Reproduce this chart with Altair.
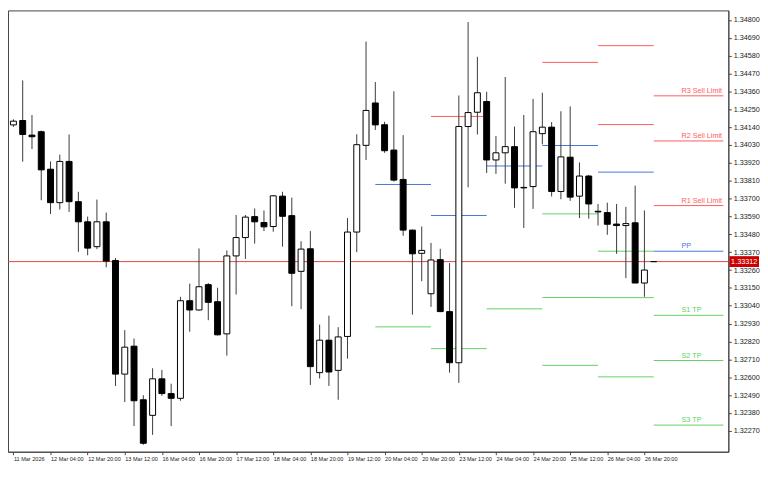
import altair as alt
import pandas as pd

# ---------------- data ----------------
tick_labels = ["11 Mar 2026", "12 Mar 04:00", "12 Mar 20:00", "13 Mar 12:00",
               "16 Mar 04:00", "16 Mar 20:00", "17 Mar 12:00", "18 Mar 04:00",
               "18 Mar 20:00", "19 Mar 12:00", "20 Mar 04:00", "20 Mar 20:00",
               "23 Mar 12:00", "24 Mar 04:00", "24 Mar 20:00", "25 Mar 12:00",
               "26 Mar 04:00", "26 Mar 20:00"]
tick_bars = [0, 4, 8, 12, 16, 20, 24, 28, 32, 36, 40, 44, 48, 52, 56, 60, 64, 68]

price_ticks = [1.34800, 1.34690, 1.34580, 1.34470, 1.34360, 1.34250, 1.34140,
               1.34030, 1.33920, 1.33810, 1.33700, 1.33590, 1.33480, 1.33370,
               1.33260, 1.33150, 1.33040, 1.32930, 1.32820, 1.32710, 1.32600,
               1.32490, 1.32380, 1.32270]

opens = [1.34154, 1.34181, 1.34091, 1.34112, 1.33881, 1.33675, 1.33929, 1.33681,
         1.33557, 1.33404, 1.33557, 1.33319, 1.32619, 1.32791, 1.32461, 1.32365,
         1.32590, 1.32499, 1.32470, 1.33071, 1.33014, 1.33170, 1.33065, 1.32867,
         1.33347, 1.33460, 1.33589, 1.33553, 1.33528, 1.33715, 1.33595, 1.33252,
         1.33391, 1.32628, 1.32828, 1.32642, 1.32851, 1.33494, 1.34028, 1.34289,
         1.34155, 1.33999, 1.33818, 1.33506, 1.33363, 1.33114, 1.33324, 1.33004,
         1.32689, 1.34144, 1.34232, 1.34298, 1.33938, 1.33982, 1.34020, 1.33769,
         1.33774, 1.34100, 1.34140, 1.33744, 1.33955, 1.33715, 1.33839, 1.33622,
         1.33614, 1.33543, 1.33534, 1.33551, 1.33180, 1.33312]
highs = [1.34188, 1.34428, 1.34215, 1.34119, 1.33929, 1.33971, 1.34095, 1.33742,
         1.33589, 1.33694, 1.33614, 1.33334, 1.32890, 1.32838, 1.32489, 1.32655,
         1.32645, 1.32560, 1.33095, 1.33176, 1.33393, 1.33180, 1.33151, 1.33381,
         1.33599, 1.33599, 1.33639, 1.33627, 1.33722, 1.33742, 1.33706, 1.33437,
         1.33500, 1.32924, 1.32979, 1.32908, 1.33580, 1.34096, 1.34667, 1.34418,
         1.34173, 1.34361, 1.34091, 1.33508, 1.33528, 1.33427, 1.33391, 1.33303,
         1.34335, 1.34787, 1.34573, 1.34358, 1.34085, 1.34449, 1.34144, 1.34215,
         1.34314, 1.34352, 1.34171, 1.34238, 1.34268, 1.33923, 1.33846, 1.33667,
         1.33675, 1.33667, 1.33649, 1.33780, 1.33627, 1.33312]
lows = [1.34142, 1.33927, 1.34005, 1.33690, 1.33605, 1.33633, 1.33618, 1.33372,
        1.33351, 1.33389, 1.33277, 1.32546, 1.32447, 1.32299, 1.32184, 1.32245,
        1.32485, 1.32299, 1.32455, 1.32880, 1.33010, 1.32951, 1.32857, 1.32733,
        1.33109, 1.33328, 1.33423, 1.33500, 1.33496, 1.33404, 1.33037, 1.33019,
        1.32552, 1.32592, 1.32546, 1.32461, 1.32714, 1.33370, 1.33938, 1.34123,
        1.33982, 1.33805, 1.33471, 1.32985, 1.33191, 1.33033, 1.33001, 1.32628,
        1.32565, 1.33770, 1.34095, 1.33858, 1.33852, 1.33792, 1.33643, 1.33519,
        1.33637, 1.34034, 1.33713, 1.33696, 1.33686, 1.33580, 1.33576, 1.33534,
        1.33477, 1.33360, 1.33210, 1.33179, 1.33095, 1.33312]
closes = [1.34177, 1.34095, 1.34081, 1.33877, 1.33675, 1.33929, 1.33681, 1.33557,
          1.33395, 1.33557, 1.33315, 1.32619, 1.32785, 1.32455, 1.32193, 1.32590,
          1.32499, 1.32470, 1.33071, 1.33014, 1.33157, 1.33061, 1.32861, 1.33347,
          1.33460, 1.33586, 1.33557, 1.33526, 1.33717, 1.33591, 1.33240, 1.33389,
          1.32665, 1.32828, 1.32632, 1.32848, 1.33494, 1.34032, 1.34243, 1.34154,
          1.33995, 1.33814, 1.33506, 1.33360, 1.33381, 1.33322, 1.33004, 1.32689,
          1.34144, 1.34230, 1.34352, 1.33938, 1.33982, 1.34020, 1.33766, 1.33766,
          1.34112, 1.34140, 1.33744, 1.33957, 1.33709, 1.33839, 1.33667, 1.33618,
          1.33542, 1.33534, 1.33546, 1.33180, 1.33260, 1.33312]

bid_price = 1.33312

# daily pivot segments (start bar, end bar, price, kind)
seg_start = [39, 39, 45, 45, 45, 51, 51, 57, 57, 57, 57, 57, 63, 63, 63, 63, 63, 63]
seg_end = [45, 45, 51, 51, 51, 57, 57, 63, 63, 63, 63, 63, 69, 69, 69, 69, 69, 69]
seg_price = [1.33787, 1.32910, 1.34206, 1.33596, 1.32776, 1.33901, 1.33021,
             1.34539, 1.34027, 1.33606, 1.33091, 1.32673,
             1.34642, 1.34156, 1.33863, 1.33376, 1.33090, 1.32602]
seg_kind = ["P", "S", "R", "P", "S", "P", "S", "R", "P", "S", "S", "S",
            "R", "R", "P", "S", "S", "S"]

# current day pivots with labels
cur_labels = ["R3 Sell Limit", "R2 Sell Limit", "R1 Sell Limit", "PP",
              "S1 TP", "S2 TP", "S3 TP"]
cur_prices = [1.34333, 1.34055, 1.33657, 1.33376, 1.32981, 1.32703, 1.32305]
cur_kind = ["R", "R", "R", "P", "S", "S", "S"]
cur_start = 69

# ---------------- layout ----------------
W, H = 728, 446
x_dom = [-0.05, 76.51]
y_dom = [1.321714, 1.348286]
kind_color = {"R": "#ff5c5c", "P": "#4a74d8", "S": "#62cf62"}
FONT = "Liberation Sans"

bars = pd.DataFrame({"idx": list(range(len(opens))), "open": opens, "high": highs,
                     "low": lows, "close": closes})
bars["fill"] = ["#ffffff" if c > o else "#000000" for o, c in zip(opens, closes)]

segs = pd.DataFrame({"x": seg_start, "x2": seg_end, "price": seg_price,
                     "color": [kind_color[k] for k in seg_kind]})
cur = pd.DataFrame({"x": [cur_start] * len(cur_prices), "x2": [x_dom[1]] * len(cur_prices),
                    "price": cur_prices, "label": cur_labels,
                    "lx": [cur_start + 3] * len(cur_prices),
                    "color": [kind_color[k] for k in cur_kind]})
bid = pd.DataFrame({"price": [bid_price], "txt": [f"{bid_price:.5f}"]})

label_arr = "[" + ",".join("'" + t + "'" for t in tick_labels) + "]"

xs = alt.Scale(domain=x_dom, nice=False, zero=False)
ys = alt.Scale(domain=y_dom, nice=False, zero=False)

x_axis = alt.Axis(values=tick_bars, labelExpr=label_arr + "[round(datum.value/4)]",
                  labelAlign="left", labelPadding=2, tickSize=3, grid=False, title=None,
                  labelFontSize=5.6, labelFont=FONT, labelColor="#222",
                  domainColor="#444", tickColor="#444", labelFlush=False,
                  labelOverlap=False, labelBound=False)
y_axis = alt.Axis(orient="right", values=price_ticks, format=".5f", grid=False,
                  title=None, tickSize=3, labelPadding=2, labelFontSize=7.3,
                  labelFont=FONT, labelColor="#222", domainColor="#444",
                  tickColor="#444", labelOverlap=False, labelFlush=False,
                  labelBound=False)


def X(field):
    return alt.X(field, scale=xs, axis=x_axis)


def Y(field):
    return alt.Y(field, scale=ys, axis=y_axis)


bid_line = alt.Chart(bid).mark_rule(color="#e04545", strokeWidth=1).encode(
    y=Y("price:Q"))

seg_lines = alt.Chart(segs).mark_rule(strokeWidth=1).encode(
    x=X("x:Q"), x2="x2:Q", y=Y("price:Q"),
    color=alt.Color("color:N", scale=None))

cur_lines = alt.Chart(cur).mark_rule(strokeWidth=1).encode(
    x=X("x:Q"), x2="x2:Q", y=Y("price:Q"),
    color=alt.Color("color:N", scale=None))

cur_text = alt.Chart(cur).mark_text(align="left", baseline="bottom", dy=-1,
                                    fontSize=7.3, font=FONT).encode(
    x=X("lx:Q"), y=Y("price:Q"), text="label:N",
    color=alt.Color("color:N", scale=None))

wicks = alt.Chart(bars).mark_rule(color="#3a3a3a", strokeWidth=1).encode(
    x=X("idx:Q"), y=Y("low:Q"), y2="high:Q")

bodies = alt.Chart(bars).mark_bar(size=6, stroke="#000000", strokeWidth=1).encode(
    x=X("idx:Q"), y=Y("open:Q"), y2="close:Q",
    fill=alt.Color("fill:N", scale=None))

bid_box = alt.Chart(bid).mark_bar(orient="horizontal", size=11, color="#cc0000",
                                  clip=False).encode(
    y=Y("price:Q"), x=alt.value(W + 1), x2=alt.value(W + 31))

bid_text = alt.Chart(bid).mark_text(align="center", baseline="middle", color="white",
                                    fontSize=7.3, font=FONT).encode(
    y=Y("price:Q"), x=alt.value(W + 16), text="txt:N")

chart = alt.layer(bid_line, seg_lines, cur_lines, cur_text, wicks, bodies,
                  bid_box, bid_text).properties(
    width=W, height=H,
    autosize=alt.AutoSizeParams(type="none"),
    padding={"left": 0, "top": 0, "right": 32, "bottom": 14},
    background="white",
).configure_view(stroke="#444444", strokeWidth=1)

chart.save("out.html", embed_options={"renderer": "svg", "actions": False})
